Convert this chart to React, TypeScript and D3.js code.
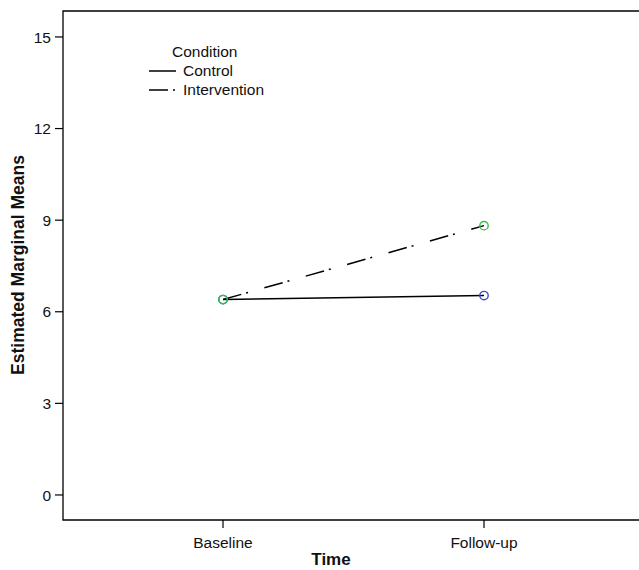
import React from "react";
import * as d3 from "d3";

const times = ["Baseline", "Follow-up"];
const conditions = ["Control", "Intervention"];
const controlMeans = [6.4, 6.53];
const interventionMeans = [6.4, 8.82];
const yTicks = [0, 3, 6, 9, 12, 15];
const yTitle = "Estimated Marginal Means";
const xTitle = "Time";
const legendTitle = "Condition";

const W = 639;
const H = 570;
const FONT = "'Liberation Sans', Arial, Helvetica, sans-serif";

export default function App() {
  const left = 63, top = 11, bottom = 520, right = 650;
  const x = d3.scalePoint<string>().domain(times).range([223, 484]);
  const y = d3.scaleLinear().domain([-0.82, 15.85]).range([bottom, top]);
  const line = d3
    .line<[string, number]>()
    .x((d) => x(d[0]) as number)
    .y((d) => y(d[1]));
  const series = [
    { name: conditions[0], values: controlMeans, dash: "none", color: "#3d4fc0" },
    { name: conditions[1], values: interventionMeans, dash: "19,5,2,17", color: "#33c04a" },
  ];
  return (
    <svg
      width={W}
      height={H}
      style={{ position: "absolute", left: 0, top: 0, background: "#fff" }}
      fontFamily={FONT}
    >
      <rect x={0} y={0} width={W} height={H} fill="#fff" />
      {/* frame */}
      <path
        d={`M${right},${top}H${left}V${bottom}H${right}`}
        fill="none"
        stroke="#000"
        strokeWidth={1.3}
      />
      {/* y ticks */}
      {yTicks.map((t) => (
        <g key={t}>
          <line x1={left - 8} x2={left} y1={y(t)} y2={y(t)} stroke="#000" strokeWidth={1.2} />
          <text x={left - 12} y={y(t)} dy="0.36em" textAnchor="end" fontSize={15.5} fill="#111">
            {t}
          </text>
        </g>
      ))}
      {/* x ticks */}
      {times.map((t) => (
        <g key={t}>
          <line x1={x(t)} x2={x(t)} y1={bottom} y2={bottom + 8} stroke="#000" strokeWidth={1.2} />
          <text x={x(t)} y={548} textAnchor="middle" fontSize={15.5} fill="#111">
            {t}
          </text>
        </g>
      ))}
      <text x={331} y={565} textAnchor="middle" fontSize={17} fontWeight="bold" fill="#111">
        {xTitle}
      </text>
      <text
        transform={`translate(24,265) rotate(-90)`}
        textAnchor="middle"
        fontSize={17.5}
        fontWeight="bold"
        fill="#111"
      >
        {yTitle}
      </text>
      {/* lines */}
      {series.map((s) => (
        <path
          key={s.name}
          d={line(times.map((t, i) => [t, s.values[i]] as [string, number])) || ""}
          fill="none"
          stroke="#000"
          strokeWidth={1.5}
          strokeDasharray={s.dash}
        />
      ))}
      {/* markers */}
      {series.map((s) =>
        times.map((t, i) => (
          <circle
            key={s.name + t}
            cx={x(t)}
            cy={y(s.values[i])}
            r={4.2}
            fill="none"
            stroke={s.color}
            strokeWidth={1.4}
          />
        ))
      )}
      {/* legend */}
      <text x={172} y={57} fontSize={15.5} fill="#111">
        {legendTitle}
      </text>
      {series.map((s, i) => (
        <g key={"lg" + s.name}>
          <line
            x1={149}
            x2={176}
            y1={71 + i * 19}
            y2={71 + i * 19}
            stroke="#000"
            strokeWidth={1.5}
            strokeDasharray={s.dash}
          />
          <text x={183} y={76 + i * 19} fontSize={15.5} fill="#111">
            {s.name}
          </text>
        </g>
      ))}
    </svg>
  );
}
